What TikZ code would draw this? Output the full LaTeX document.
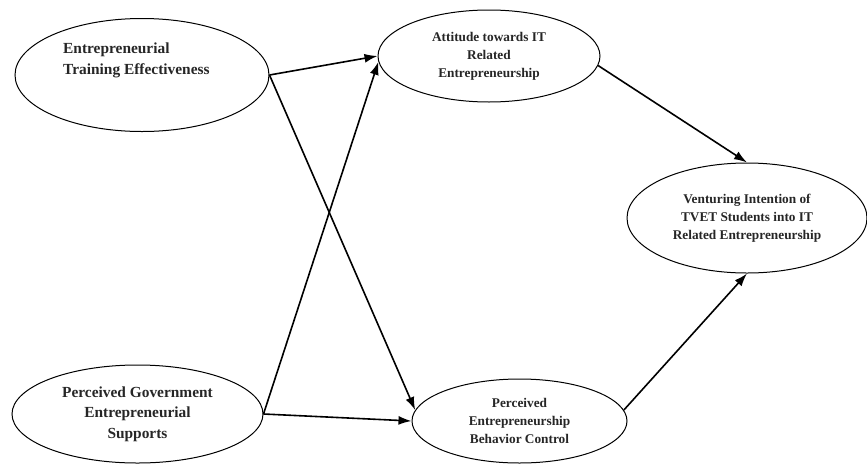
\documentclass[tikz,border=0pt]{standalone}
\usepackage{fontspec}
\setmainfont{Liberation Serif}
\usepackage{tikz}
\usetikzlibrary{shapes, arrows.meta, positioning}
\tikzset{
    construct/.style={ellipse, draw, line width=1pt, align=center, inner sep=0pt, text=black!85, font=\fontsize{13.3}{18}\selectfont\bfseries},
    bigconstruct/.style={construct, font=\fontsize{15.4}{20.5}\selectfont\bfseries},
    arrow/.style={line width=1.6pt, -{Latex[length=13pt, width=9pt]}}
}
\begin{document}
\begin{tikzpicture}[x=1pt, y=-1pt]
            \useasboundingbox (0,0) rectangle (867,464);
            \node[bigconstruct, minimum width=254pt, minimum height=113pt] (training_eff) at (142,75) {};
            \node[anchor=west, align=left, inner sep=0pt, text=black!85, font=\fontsize{15.4}{21}\selectfont\bfseries] (training_text) at (63,60) {Entrepreneurial\\Training Effectiveness};
            \node[construct, minimum width=222pt, minimum height=92pt] (attitude) at (489,56) {Attitude towards IT\\Related\\Entrepreneurship};
            \node[construct, minimum width=240pt, minimum height=110pt] (intention) at (747,218) {Venturing Intention of\\TVET Students into IT\\Related Entrepreneurship};
            \node[bigconstruct, minimum width=251pt, minimum height=98pt] (gov_support) at (137.5,414) {Perceived Government\\Entrepreneurial\\Supports};
            \node[construct, minimum width=215pt, minimum height=84pt] (behavior_ctrl) at (519.5,421) {Perceived\\Entrepreneurship\\Behavior Control};

            \draw[arrow] (training_eff.east) -- (attitude.west);
            \draw[arrow] (training_eff.east) -- (behavior_ctrl.174);
            \draw[arrow] (gov_support.east) -- (attitude.183);
            \draw[arrow] (gov_support.east) -- (behavior_ctrl.west);
            \draw[arrow] (attitude.355) -- (intention.north);
            \draw[arrow] (behavior_ctrl.6) -- (intention.south);
        \end{tikzpicture}
\end{document}
